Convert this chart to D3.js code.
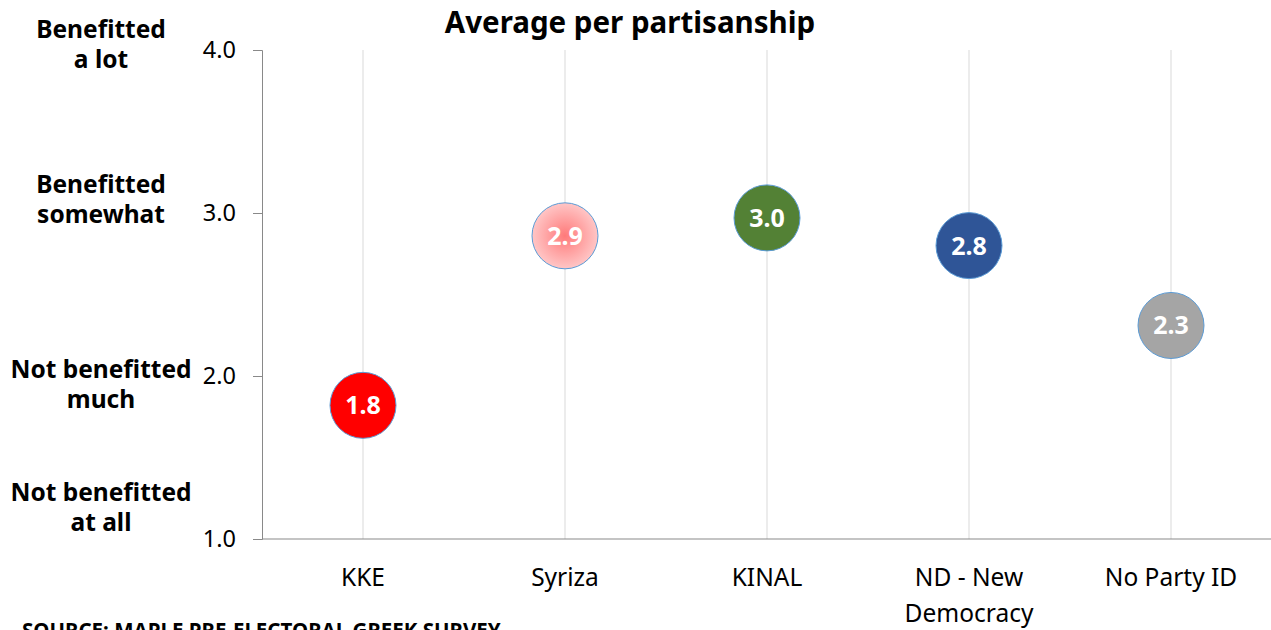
<!DOCTYPE html>
<html>
<head>
<meta charset="utf-8">
<script src="https://cdn.jsdelivr.net/npm/d3@7"></script>
<style>
  body { margin: 0; background: #fff; }
  svg { display: block; font-family: "Noto Sans", "Open Sans", sans-serif; }
</style>
</head>
<body>
<svg id="chart" width="1271" height="630"></svg>
<script>
// Data
const parties = ["KKE", "Syriza", "KINAL", "ND - New Democracy", "No Party ID"];
const averages = [1.82, 2.86, 2.97, 2.80, 2.31];
const valueLabels = ["1.8", "2.9", "3.0", "2.8", "2.3"];
const yTicks = [1, 2, 3, 4];
const levelValues = [4, 3, 2, 1];
const levelLabels = [
  ["Benefitted", "a lot"],
  ["Benefitted", "somewhat"],
  ["Not benefitted", "much"],
  ["Not benefitted", "at all"]
];
const bubbleColors = ["#ff0000", "url(#syrizaGrad)", "#538135", "#2f5597", "#a5a5a5"];

// label baseline shift against its tick (layout only)
const levelShift = [-12, -20, 2, -38];

const svg = d3.select("#chart");

const x = d3.scaleBand()
  .domain(parties)
  .range([262, 1272]);

const y = d3.scaleLinear()
  .domain([1, 4])
  .range([539, 50]);

const cx = d => x(d) + x.bandwidth() / 2;

// radial gradient for Syriza bubble
const defs = svg.append("defs");
const grad = defs.append("radialGradient").attr("id", "syrizaGrad");
grad.append("stop").attr("offset", "0%").attr("stop-color", "#ff7a7a");
grad.append("stop").attr("offset", "100%").attr("stop-color", "#ffc6c6");

// vertical gridlines at each category
svg.append("g")
  .selectAll("line")
  .data(parties)
  .join("line")
  .attr("x1", cx)
  .attr("x2", cx)
  .attr("y1", y(4))
  .attr("y2", y(1))
  .attr("stroke", "#d9d9d9")
  .attr("stroke-width", 1);

// y axis
const yAxis = svg.append("g")
  .attr("transform", "translate(262,0)")
  .call(d3.axisLeft(y).tickValues(yTicks).tickFormat(d3.format(".1f")).tickSize(9).tickPadding(17));
yAxis.select(".domain").attr("stroke", "#898989");
yAxis.selectAll(".tick line").attr("stroke", "#898989");
yAxis.selectAll(".tick text")
  .attr("font-size", 23.5)
  .attr("fill", "#000")
  .attr("font-family", "'Noto Sans', sans-serif");

// x axis line
svg.append("line")
  .attr("x1", 262).attr("x2", 1271)
  .attr("y1", y(1)).attr("y2", y(1))
  .attr("stroke", "#898989");

// category labels
const catLines = d => d === "ND - New Democracy" ? ["ND - New", "Democracy"] : [d];
svg.append("g")
  .selectAll("text")
  .data(parties)
  .join("text")
  .attr("x", cx)
  .attr("y", 586)
  .attr("text-anchor", "middle")
  .attr("font-size", 24.5)
  .selectAll("tspan")
  .data(d => catLines(d).map(t => ({ t, x: cx(d) })))
  .join("tspan")
  .attr("x", d => d.x)
  .attr("dy", (d, i) => i === 0 ? 0 : 36)
  .text(d => d.t);

// left level labels
svg.append("g")
  .selectAll("text")
  .data(levelLabels)
  .join("text")
  .attr("x", 101)
  .attr("y", (d, i) => y(levelValues[i]) + levelShift[i])
  .attr("text-anchor", "middle")
  .attr("font-size", 24.5)
  .attr("font-weight", "bold")
  .selectAll("tspan")
  .data(d => d)
  .join("tspan")
  .attr("x", 101)
  .attr("dy", (d, i) => i === 0 ? 0 : 30)
  .text(d => d);

// bubbles
const pts = parties.map((p, i) => ({ p, v: averages[i], label: valueLabels[i], color: bubbleColors[i] }));
const bubbles = svg.append("g")
  .selectAll("g")
  .data(pts)
  .join("g")
  .attr("transform", d => `translate(${cx(d.p)},${y(d.v)})`);

bubbles.append("circle")
  .attr("r", 33)
  .attr("fill", d => d.color)
  .attr("stroke", "#5b9bd5")
  .attr("stroke-width", 1);

bubbles.append("text")
  .attr("text-anchor", "middle")
  .attr("dy", "0.36em")
  .attr("font-size", 25)
  .attr("font-weight", "bold")
  .attr("fill", "#fff")
  .text(d => d.label);

// title
svg.append("text")
  .attr("x", 630)
  .attr("y", 33)
  .attr("text-anchor", "middle")
  .attr("font-size", 29.5)
  .attr("font-weight", "bold")
  .text("Average per partisanship");

// source note
svg.append("text")
  .attr("x", 22)
  .attr("y", 638)
  .attr("font-size", 20.5)
  .attr("font-weight", "bold")
  .text("SOURCE: MAPLE PRE-ELECTORAL GREEK SURVEY");
</script>
</body>
</html>
